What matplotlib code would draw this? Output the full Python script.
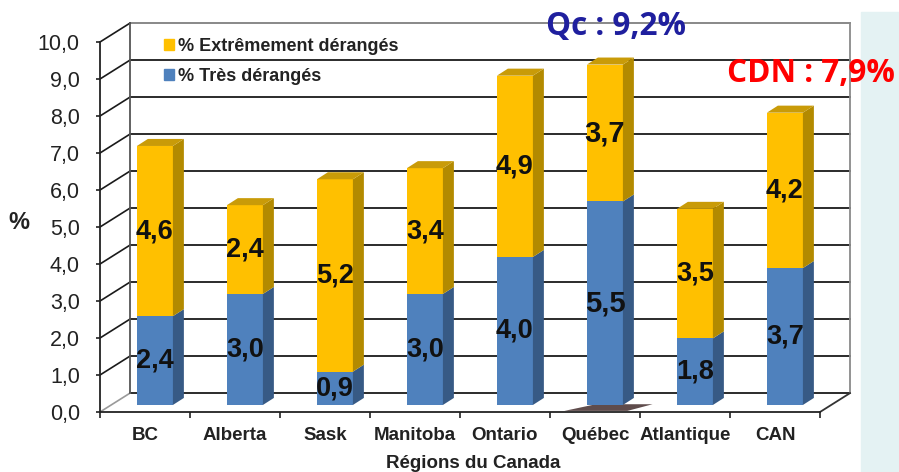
import matplotlib
matplotlib.use("Agg")
import matplotlib.pyplot as plt
from matplotlib.patches import Polygon, Rectangle
from matplotlib.lines import Line2D

# ---- data ----
regions = ["BC", "Alberta", "Sask", "Manitoba", "Ontario", "Québec", "Atlantique", "CAN"]
tres = [2.4, 3.0, 0.9, 3.0, 4.0, 5.5, 1.8, 3.7]
extreme = [4.6, 2.4, 5.2, 3.4, 4.9, 3.7, 3.5, 4.2]
yticks = [0, 1, 2, 3, 4, 5, 6, 7, 8, 9, 10]
series_names = ["% Extrêmement dérangés", "% Très dérangés"]
xlabel = "Régions du Canada"
qc_note = "Qc : 9,2%"
cdn_note = "CDN : 7,9%"

# ---- style ----
FONT = ["Liberation Sans", "DejaVu Sans"]
plt.rcParams["font.family"] = FONT
W, H = 899, 472
fig = plt.figure(figsize=(W / 100, H / 100), dpi=100)

# pixel geometry of axes
px_left, px_right = 91, 856
px_bottom, px_top = 419.4, 17.95
ax = fig.add_axes([px_left / W, (H - px_bottom) / H, (px_right - px_left) / W, (px_bottom - px_top) / H])
ax.set_xlim(-0.6, 7.9)
ax.set_ylim(-0.2, 10.65)
ax.patch.set_alpha(0)

# slide background strip on right
fig.patches.append(Rectangle((861 / W, 0), (W - 861) / W, 0.975, transform=fig.transFigure,
                             color="#e4f2f3", zorder=0))

# depth parameters (data units)
DX, DY = 0.333, 0.51          # wall depth
BOX, BOY = 0.11, 0.19         # bar plane offset from front
BDX, BDY = 0.122, 0.19        # bar depth
BW = 0.4
n = len(regions)
xl, xr = -0.5, n - 0.5

# back wall gridlines
for v in yticks:
    c = "#7f7f7f" if v == yticks[-1] else "#1a1a1a"
    ax.add_line(Line2D([xl + DX, xr + DX], [v + DY, v + DY], color=c, lw=1.3, zorder=1))
    c2 = "#9a9a9a" if v == 0 else "#1a1a1a"
    ax.add_line(Line2D([xl, xl + DX], [v, v + DY], color=c2, lw=1.2, zorder=1))
ax.add_line(Line2D([xl + DX, xl + DX], [DY, yticks[-1] + DY], color="#555555", lw=1.3, zorder=1))
ax.add_line(Line2D([xr + DX, xr + DX], [DY, yticks[-1] + DY], color="#8a8a8a", lw=1.3, zorder=1))
ax.add_line(Line2D([xr, xr + DX], [0, DY], color="#333333", lw=1.3, zorder=1))

# bar colors
Y_FRONT, Y_SIDE, Y_TOP = "#FFC000", "#B38A00", "#C99B08"
B_FRONT, B_SIDE = "#4F81BD", "#375A85"

# shadow under Québec bar
qi = regions.index("Québec")
sx0 = qi + BOX - BW / 2
sx1 = qi + BOX + BW / 2
ax.add_patch(Polygon([(sx0 - 0.25, 0.03), (sx1 + 0.05, 0.03), (sx1 + 0.33, BOY + 0.02),
                      (sx0 + 0.1, BOY + 0.02)], closed=True, color="#2a1010", alpha=0.75, lw=0, zorder=2))

for i in range(n):
    x0 = i + BOX - BW / 2
    x1 = x0 + BW
    b = tres[i]
    t = tres[i] + extreme[i]
    ax.bar(i + BOX, b, bottom=BOY, width=BW, color=B_FRONT, lw=0, zorder=3)
    ax.bar(i + BOX, extreme[i], bottom=BOY + b, width=BW, color=Y_FRONT, lw=0, zorder=3)
    ax.add_patch(Polygon([(x1, BOY), (x1 + BDX, BOY + BDY), (x1 + BDX, BOY + b + BDY), (x1, BOY + b)],
                         closed=True, color=B_SIDE, lw=0, zorder=3))
    ax.add_patch(Polygon([(x1, BOY + b), (x1 + BDX, BOY + b + BDY), (x1 + BDX, BOY + t + BDY), (x1, BOY + t)],
                         closed=True, color=Y_SIDE, lw=0, zorder=3))
    ax.add_patch(Polygon([(x0, BOY + t), (x1, BOY + t), (x1 + BDX, BOY + t + BDY), (x0 + BDX, BOY + t + BDY)],
                         closed=True, color=Y_TOP, lw=0, zorder=3))
    fs = 21 if regions[i] == "Québec" else 19.5
    ax.text(i + BOX, BOY + b / 2, f"{b:.1f}".replace(".", ","), ha="center", va="center",
            fontsize=fs, fontweight="bold", color="#111111", zorder=5)
    ax.text(i + BOX, BOY + b + extreme[i] / 2, f"{extreme[i]:.1f}".replace(".", ","), ha="center",
            va="center", fontsize=fs, fontweight="bold", color="#111111", zorder=5)

# axes / spines
for s in ["top", "right"]:
    ax.spines[s].set_visible(False)
ax.spines["left"].set_position(("data", xl))
ax.spines["left"].set_bounds(0, yticks[-1])
ax.spines["bottom"].set_position(("data", 0))
ax.spines["bottom"].set_bounds(xl, xr)
for s in ["left", "bottom"]:
    ax.spines[s].set_color("#222222")
    ax.spines[s].set_linewidth(1.3)
    ax.spines[s].set_zorder(4)
ax.set_yticks(yticks)
ax.set_yticklabels([f"{v:.1f}".replace(".", ",") for v in yticks], fontsize=15.5, color="#222222")
ax.tick_params(axis="y", length=3, width=1.2, pad=11.5, color="#222222")
ax.set_xticks(range(n))
ax.set_xticklabels(regions, fontsize=13.5, fontweight="bold", color="#222222")
ax.set_xticks([k - 0.5 for k in range(n + 1)], minor=True)
ax.tick_params(axis="x", which="major", length=0, pad=10.5)
ax.tick_params(axis="x", which="minor", length=4.3, width=1.2, color="#222222")
ax.set_xlabel(xlabel, fontsize=13.5, fontweight="bold", color="#222222", labelpad=8)

fig.text(19 / W, 1 - 222 / H, "%", fontsize=17, fontweight="bold", ha="center", va="center", color="#222222")

# legend
handles = [Rectangle((0, 0), 1, 1, color=Y_FRONT), Rectangle((0, 0), 1, 1, color=B_FRONT)]
leg = ax.legend(handles, series_names, loc="upper left", bbox_to_anchor=(155 / W, 1 - 29 / H),
                bbox_transform=fig.transFigure, frameon=False, handlelength=0.55, handleheight=0.55,
                handletextpad=0.25, labelspacing=0.72, borderpad=0,
                prop={"family": FONT, "weight": "bold", "size": 13})
for t in leg.get_texts():
    t.set_color("#222222")

# annotations
fig.text(616 / W, 1 - 27 / H, qc_note, fontsize=22.7, fontweight="bold", color="#1f1f9e",
         family=["Open Sans", "DejaVu Sans"], ha="center", va="center")
fig.text(811 / W, 1 - 74 / H, cdn_note, fontsize=22.7, fontweight="bold", color="#ff0000",
         family=["Open Sans", "DejaVu Sans"], ha="center", va="center")

fig.savefig("out.png", dpi=100)
